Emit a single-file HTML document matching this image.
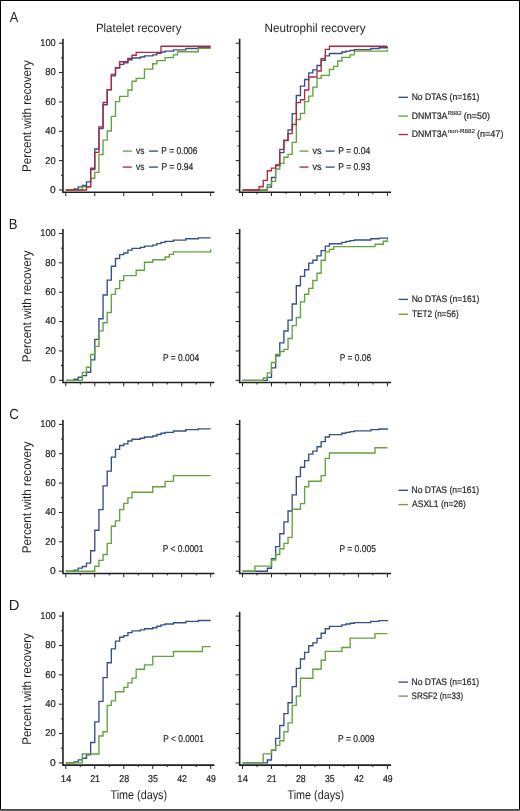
<!DOCTYPE html>
<html><head><meta charset="utf-8"><title>Platelet and neutrophil recovery</title>
<style>html,body{margin:0;padding:0;background:#fff;overflow:hidden}
.frame{position:relative;width:520px;height:811px;overflow:hidden}
.frame svg{position:absolute;left:0;top:0;display:block;will-change:transform}
</style></head><body><div class="frame">
<svg width="520" height="811" viewBox="0 0 520 811">
<style>text{font-family:"Liberation Sans", sans-serif;fill:#231f20;text-rendering:geometricPrecision} .sm{stroke:#231f20;stroke-width:0.2px} .xs{stroke:#231f20;stroke-width:0.12px} .ax{fill:none;stroke:#231f20;stroke-width:1.6} .tk{fill:none;stroke:#231f20;stroke-width:1.0} .c path{fill:none;stroke-width:1.35} .lg{stroke-width:1.35;fill:none}</style>
<rect x="0" y="0" width="520" height="811" fill="#fff"/>
<path d="M62.95,38.80 V192.25 H214.40" class="ax"/>
<path d="M58.95,43.20H62.95M60.95,57.88H62.95M58.95,72.56H62.95M60.95,87.24H62.95M58.95,101.92H62.95M60.95,116.60H62.95M58.95,131.28H62.95M60.95,145.96H62.95M58.95,160.64H62.95M60.95,175.32H62.95M58.95,190.00H62.95M65.80,192.25V196.05M94.78,192.25V196.05M123.76,192.25V196.05M152.74,192.25V196.05M181.72,192.25V196.05M210.70,192.25V196.05" class="tk"/>
<path d="M239.65,38.80 V192.25 H391.10" class="ax"/>
<path d="M235.65,43.20H239.65M237.65,57.88H239.65M235.65,72.56H239.65M237.65,87.24H239.65M235.65,101.92H239.65M237.65,116.60H239.65M235.65,131.28H239.65M237.65,145.96H239.65M235.65,160.64H239.65M237.65,175.32H239.65M235.65,190.00H239.65M242.50,192.25V196.05M256.99,192.25V194.25M271.48,192.25V196.05M285.97,192.25V194.25M300.46,192.25V196.05M314.95,192.25V194.25M329.44,192.25V196.05M343.93,192.25V194.25M358.42,192.25V196.05M372.91,192.25V194.25M387.40,192.25V196.05" class="tk"/>
<text transform="translate(30.75,115.50) rotate(-90)" x="-56.45" y="0" font-size="12.6" textLength="111.70" lengthAdjust="spacingAndGlyphs">Percent with recovery</text>
<path d="M62.95,229.10 V382.55 H214.40" class="ax"/>
<path d="M58.95,233.50H62.95M60.95,248.18H62.95M58.95,262.86H62.95M60.95,277.54H62.95M58.95,292.22H62.95M60.95,306.90H62.95M58.95,321.58H62.95M60.95,336.26H62.95M58.95,350.94H62.95M60.95,365.62H62.95M58.95,380.30H62.95M65.80,382.55V386.35M80.29,382.55V384.55M94.78,382.55V386.35M109.27,382.55V384.55M123.76,382.55V386.35M138.25,382.55V384.55M152.74,382.55V386.35M167.23,382.55V384.55M181.72,382.55V386.35M196.21,382.55V384.55M210.70,382.55V386.35" class="tk"/>
<path d="M239.65,229.10 V382.55 H391.10" class="ax"/>
<path d="M235.65,233.50H239.65M237.65,248.18H239.65M235.65,262.86H239.65M237.65,277.54H239.65M235.65,292.22H239.65M237.65,306.90H239.65M235.65,321.58H239.65M237.65,336.26H239.65M235.65,350.94H239.65M237.65,365.62H239.65M235.65,380.30H239.65M242.50,382.55V386.35M256.99,382.55V384.55M271.48,382.55V386.35M285.97,382.55V384.55M300.46,382.55V386.35M314.95,382.55V384.55M329.44,382.55V386.35M343.93,382.55V384.55M358.42,382.55V386.35M372.91,382.55V384.55M387.40,382.55V386.35" class="tk"/>
<text transform="translate(30.75,305.80) rotate(-90)" x="-56.45" y="0" font-size="12.6" textLength="111.70" lengthAdjust="spacingAndGlyphs">Percent with recovery</text>
<path d="M62.95,420.00 V573.45 H214.40" class="ax"/>
<path d="M58.95,424.40H62.95M60.95,439.08H62.95M58.95,453.76H62.95M60.95,468.44H62.95M58.95,483.12H62.95M60.95,497.80H62.95M58.95,512.48H62.95M60.95,527.16H62.95M58.95,541.84H62.95M60.95,556.52H62.95M58.95,571.20H62.95M65.80,573.45V577.25M80.29,573.45V575.45M94.78,573.45V577.25M109.27,573.45V575.45M123.76,573.45V577.25M138.25,573.45V575.45M152.74,573.45V577.25M167.23,573.45V575.45M181.72,573.45V577.25M196.21,573.45V575.45M210.70,573.45V577.25" class="tk"/>
<path d="M239.65,420.00 V573.45 H391.10" class="ax"/>
<path d="M235.65,424.40H239.65M237.65,439.08H239.65M235.65,453.76H239.65M237.65,468.44H239.65M235.65,483.12H239.65M237.65,497.80H239.65M235.65,512.48H239.65M237.65,527.16H239.65M235.65,541.84H239.65M237.65,556.52H239.65M235.65,571.20H239.65M242.50,573.45V577.25M256.99,573.45V575.45M271.48,573.45V577.25M285.97,573.45V575.45M300.46,573.45V577.25M314.95,573.45V575.45M329.44,573.45V577.25M343.93,573.45V575.45M358.42,573.45V577.25M372.91,573.45V575.45M387.40,573.45V577.25" class="tk"/>
<text transform="translate(30.75,496.70) rotate(-90)" x="-56.45" y="0" font-size="12.6" textLength="111.70" lengthAdjust="spacingAndGlyphs">Percent with recovery</text>
<path d="M62.95,611.70 V765.15 H214.40" class="ax"/>
<path d="M58.95,616.10H62.95M60.95,630.78H62.95M58.95,645.46H62.95M60.95,660.14H62.95M58.95,674.82H62.95M60.95,689.50H62.95M58.95,704.18H62.95M60.95,718.86H62.95M58.95,733.54H62.95M60.95,748.22H62.95M58.95,762.90H62.95M65.80,765.15V768.95M80.29,765.15V767.15M94.78,765.15V768.95M109.27,765.15V767.15M123.76,765.15V768.95M138.25,765.15V767.15M152.74,765.15V768.95M167.23,765.15V767.15M181.72,765.15V768.95M196.21,765.15V767.15M210.70,765.15V768.95" class="tk"/>
<path d="M239.65,611.70 V765.15 H391.10" class="ax"/>
<path d="M235.65,616.10H239.65M237.65,630.78H239.65M235.65,645.46H239.65M237.65,660.14H239.65M235.65,674.82H239.65M237.65,689.50H239.65M235.65,704.18H239.65M237.65,718.86H239.65M235.65,733.54H239.65M237.65,748.22H239.65M235.65,762.90H239.65M242.50,765.15V768.95M256.99,765.15V767.15M271.48,765.15V768.95M285.97,765.15V767.15M300.46,765.15V768.95M314.95,765.15V767.15M329.44,765.15V768.95M343.93,765.15V767.15M358.42,765.15V768.95M372.91,765.15V767.15M387.40,765.15V768.95" class="tk"/>
<text transform="translate(30.75,688.40) rotate(-90)" x="-56.45" y="0" font-size="12.6" textLength="111.70" lengthAdjust="spacingAndGlyphs">Percent with recovery</text>
<g class="c">
<path d="M65.80,190.00 H74.08 V188.97 H78.22 V186.92 H82.36 V185.30 H86.50 V181.93 H90.64 V169.59 H94.78 V149.04 H98.92 V128.49 H103.06 V104.71 H107.20 V89.88 H111.34 V75.94 H115.48 V68.16 H119.62 V64.34 H123.76 V62.72 H127.90 V59.79 H132.04 V58.03 H140.32 V57.00 H144.46 V55.82 H152.74 V54.80 H156.88 V53.33 H161.02 V52.01 H165.16 V51.13 H173.44 V49.81 H185.86 V48.48 H198.28 V47.60 H210.70" stroke="#34508a"/>
<path d="M65.80,190.00 H82.36 V186.77 H90.64 V178.26 H94.78 V172.38 H98.92 V154.47 H103.06 V140.09 H107.20 V130.99 H111.34 V116.31 H115.48 V101.63 H119.62 V96.34 H127.90 V90.03 H132.04 V81.22 H136.18 V78.43 H144.46 V69.18 H152.74 V63.75 H156.88 V60.67 H165.16 V57.59 H173.44 V54.94 H177.58 V51.71 H198.28 V48.34 H210.70" stroke="#62a33c"/>
<path d="M65.80,190.00 H86.50 V186.77 H90.64 V168.27 H94.78 V152.42 H98.92 V127.02 H103.06 V102.51 H107.20 V89.59 H111.34 V74.47 H115.48 V67.57 H119.62 V61.70 H127.90 V58.32 H132.04 V55.24 H136.18 V52.30 H161.02 V46.28 H210.70" stroke="#b02a3e"/>
<path d="M242.50,190.00 H267.34 V187.06 H271.48 V177.52 H275.62 V165.48 H279.76 V152.57 H283.90 V140.68 H288.04 V129.81 H292.18 V113.66 H296.32 V95.46 H300.46 V86.07 H304.60 V79.46 H308.74 V72.85 H312.88 V69.92 H317.02 V65.51 H321.16 V60.38 H325.30 V55.82 H329.44 V53.48 H341.86 V52.01 H346.00 V51.13 H350.14 V50.39 H354.28 V49.66 H370.84 V48.48 H379.12 V47.75 H387.40 V47.02 H387.40" stroke="#34508a"/>
<path d="M242.50,190.00 H267.34 V184.72 H271.48 V181.34 H275.62 V169.01 H279.76 V163.43 H283.90 V157.26 H288.04 V154.33 H292.18 V142.44 H296.32 V119.54 H300.46 V113.37 H304.60 V101.63 H308.74 V96.05 H312.88 V87.09 H317.02 V78.43 H321.16 V75.35 H329.44 V69.33 H333.58 V66.39 H337.72 V60.96 H341.86 V57.44 H350.14 V54.80 H354.28 V51.13 H387.40 V49.66 H387.40" stroke="#62a33c"/>
<path d="M242.50,190.00 H259.06 V186.77 H263.20 V180.31 H267.34 V170.77 H271.48 V168.13 H275.62 V165.04 H279.76 V149.34 H283.90 V140.09 H288.04 V133.63 H292.18 V124.53 H296.32 V102.65 H300.46 V99.72 H304.60 V90.03 H308.74 V76.96 H317.02 V70.95 H321.16 V58.76 H325.30 V49.37 H329.44 V46.28 H387.40" stroke="#b02a3e"/>
<path d="M65.80,380.30 H74.08 V379.27 H78.22 V377.22 H82.36 V375.60 H86.50 V372.23 H90.64 V359.89 H94.78 V339.34 H98.92 V318.79 H103.06 V295.01 H107.20 V280.18 H111.34 V266.24 H115.48 V258.46 H119.62 V254.64 H123.76 V253.02 H127.90 V250.09 H132.04 V248.33 H140.32 V247.30 H144.46 V246.12 H152.74 V245.10 H156.88 V243.63 H161.02 V242.31 H165.16 V241.43 H173.44 V240.11 H185.86 V238.78 H198.28 V237.90 H210.70" stroke="#34508a"/>
<path d="M65.80,380.30 H82.36 V372.37 H86.50 V367.23 H90.64 V354.46 H94.78 V346.39 H98.92 V330.83 H103.06 V322.75 H107.20 V312.48 H111.34 V294.42 H115.48 V288.55 H119.62 V280.62 H123.76 V275.63 H136.18 V270.20 H144.46 V262.27 H152.74 V259.78 H165.16 V256.99 H169.30 V254.35 H173.44 V251.85 H210.70 V249.35 H210.70" stroke="#62a33c"/>
<path d="M242.50,380.30 H267.34 V377.36 H271.48 V367.82 H275.62 V355.78 H279.76 V342.87 H283.90 V330.98 H288.04 V320.11 H292.18 V303.96 H296.32 V285.76 H300.46 V276.37 H304.60 V269.76 H308.74 V263.15 H312.88 V260.22 H317.02 V255.81 H321.16 V250.68 H325.30 V246.12 H329.44 V243.78 H341.86 V242.31 H346.00 V241.43 H350.14 V240.69 H354.28 V239.96 H370.84 V238.78 H379.12 V238.05 H387.40 V237.32 H387.40" stroke="#34508a"/>
<path d="M242.50,380.30 H263.20 V377.95 H267.34 V372.81 H271.48 V362.54 H275.62 V354.46 H279.76 V351.53 H283.90 V349.33 H288.04 V338.46 H292.18 V325.69 H296.32 V317.47 H300.46 V301.91 H304.60 V294.28 H308.74 V288.40 H312.88 V280.48 H317.02 V273.28 H321.16 V260.22 H325.30 V251.85 H329.44 V249.35 H333.58 V246.57 H374.98 V244.22 H383.26 V241.28 H387.40 V239.23 H387.40" stroke="#62a33c"/>
<path d="M65.80,571.20 H74.08 V570.17 H78.22 V568.12 H82.36 V566.50 H86.50 V563.13 H90.64 V550.79 H94.78 V530.24 H98.92 V509.69 H103.06 V485.91 H107.20 V471.08 H111.34 V457.14 H115.48 V449.36 H119.62 V445.54 H123.76 V443.92 H127.90 V440.99 H132.04 V439.23 H140.32 V438.20 H144.46 V437.02 H152.74 V436.00 H156.88 V434.53 H161.02 V433.21 H165.16 V432.33 H173.44 V431.01 H185.86 V429.68 H198.28 V428.80 H210.70" stroke="#34508a"/>
<path d="M65.80,571.20 H94.78 V566.21 H98.92 V560.34 H103.06 V554.46 H107.20 V543.31 H111.34 V526.28 H115.48 V520.85 H119.62 V509.54 H123.76 V503.38 H127.90 V497.80 H132.04 V492.22 H152.74 V486.79 H165.16 V481.36 H173.44 V475.63 H210.70" stroke="#62a33c"/>
<path d="M242.50,571.20 H267.34 V568.26 H271.48 V558.72 H275.62 V546.68 H279.76 V533.77 H283.90 V521.88 H288.04 V511.01 H292.18 V494.86 H296.32 V476.66 H300.46 V467.27 H304.60 V460.66 H308.74 V454.05 H312.88 V451.12 H317.02 V446.71 H321.16 V441.58 H325.30 V437.02 H329.44 V434.68 H341.86 V433.21 H346.00 V432.33 H350.14 V431.59 H354.28 V430.86 H370.84 V429.68 H379.12 V428.95 H387.40 V428.22 H387.40" stroke="#34508a"/>
<path d="M242.50,571.20 H254.92 V566.06 H271.48 V560.04 H275.62 V554.46 H279.76 V548.74 H283.90 V543.31 H288.04 V537.44 H292.18 V509.25 H300.46 V503.67 H304.60 V486.79 H308.74 V481.21 H321.16 V475.63 H325.30 V458.31 H329.44 V453.03 H374.98 V447.74 H387.40" stroke="#62a33c"/>
<path d="M65.80,762.90 H74.08 V761.87 H78.22 V759.82 H82.36 V758.20 H86.50 V754.83 H90.64 V742.49 H94.78 V721.94 H98.92 V701.39 H103.06 V677.61 H107.20 V662.78 H111.34 V648.84 H115.48 V641.06 H119.62 V637.24 H123.76 V635.62 H127.90 V632.69 H132.04 V630.93 H140.32 V629.90 H144.46 V628.72 H152.74 V627.70 H156.88 V626.23 H161.02 V624.91 H165.16 V624.03 H173.44 V622.71 H185.86 V621.38 H198.28 V620.50 H210.70" stroke="#34508a"/>
<path d="M65.80,762.90 H82.36 V753.95 H98.92 V736.04 H103.06 V731.78 H107.20 V705.35 H111.34 V700.80 H115.48 V691.70 H123.76 V687.44 H127.90 V682.89 H132.04 V678.05 H136.18 V669.24 H144.46 V664.84 H152.74 V656.32 H173.44 V651.48 H202.42 V646.63 H210.70" stroke="#62a33c"/>
<path d="M242.50,762.90 H267.34 V759.96 H271.48 V750.42 H275.62 V738.38 H279.76 V725.47 H283.90 V713.58 H288.04 V702.71 H292.18 V686.56 H296.32 V668.36 H300.46 V658.97 H304.60 V652.36 H308.74 V645.75 H312.88 V642.82 H317.02 V638.41 H321.16 V633.28 H325.30 V628.72 H329.44 V626.38 H341.86 V624.91 H346.00 V624.03 H350.14 V623.29 H354.28 V622.56 H370.84 V621.38 H379.12 V620.65 H387.40 V619.92 H387.40" stroke="#34508a"/>
<path d="M242.50,762.90 H263.20 V753.80 H271.48 V749.98 H275.62 V745.43 H279.76 V740.73 H283.90 V731.78 H288.04 V722.82 H292.18 V705.35 H296.32 V696.11 H300.46 V678.20 H312.88 V669.24 H321.16 V660.29 H325.30 V651.33 H341.86 V647.52 H350.14 V638.12 H374.98 V633.57 H387.40" stroke="#62a33c"/>
</g>
<path d="M122.80,151.10H131.80" stroke="#62a33c" class="lg"/>
<path d="M149.00,151.10H157.90" stroke="#34508a" class="lg"/>
<path d="M122.80,167.10H131.80" stroke="#b02a3e" class="lg"/>
<path d="M149.00,167.10H157.90" stroke="#34508a" class="lg"/>
<path d="M299.50,151.10H308.50" stroke="#62a33c" class="lg"/>
<path d="M325.70,151.10H334.60" stroke="#34508a" class="lg"/>
<path d="M299.50,167.10H308.50" stroke="#b02a3e" class="lg"/>
<path d="M325.70,167.10H334.60" stroke="#34508a" class="lg"/>
<path d="M398.50,97.30H408.00" stroke="#34508a" class="lg"/>
<path d="M398.50,116.05H408.00" stroke="#62a33c" class="lg"/>
<path d="M398.50,134.55H408.00" stroke="#b02a3e" class="lg"/>
<path d="M398.50,299.40H408.00" stroke="#34508a" class="lg"/>
<path d="M398.50,314.20H408.00" stroke="#62a33c" class="lg"/>
<path d="M398.50,490.30H408.00" stroke="#34508a" class="lg"/>
<path d="M398.50,504.60H408.00" stroke="#62a33c" class="lg"/>
<path d="M398.50,682.10H408.00" stroke="#34508a" class="lg"/>
<path d="M398.50,696.10H408.00" stroke="#62a33c" class="lg"/>
<text x="9.64" y="22.00" font-size="14.60" textLength="8.49" lengthAdjust="spacingAndGlyphs">A</text>
<text x="8.87" y="229.00" font-size="14.60" textLength="8.73" lengthAdjust="spacingAndGlyphs">B</text>
<text x="9.36" y="419.00" font-size="14.60" textLength="9.58" lengthAdjust="spacingAndGlyphs">C</text>
<text x="8.72" y="610.00" font-size="14.60" textLength="10.64" lengthAdjust="spacingAndGlyphs">D</text>
<text x="95.92" y="32.00" font-size="12.00" textLength="85.48" lengthAdjust="spacingAndGlyphs">Platelet recovery</text>
<text x="264.50" y="32.00" font-size="12.00" textLength="101.08" lengthAdjust="spacingAndGlyphs">Neutrophil recovery</text>
<text x="40.34" y="46.00" font-size="9.90" textLength="15.44" lengthAdjust="spacingAndGlyphs" class="sm">100</text>
<text x="45.31" y="75.00" font-size="9.90" textLength="10.44" lengthAdjust="spacingAndGlyphs" class="sm">80</text>
<text x="45.24" y="105.00" font-size="9.90" textLength="10.47" lengthAdjust="spacingAndGlyphs" class="sm">60</text>
<text x="45.37" y="134.00" font-size="9.90" textLength="10.46" lengthAdjust="spacingAndGlyphs" class="sm">40</text>
<text x="45.31" y="164.00" font-size="9.90" textLength="10.43" lengthAdjust="spacingAndGlyphs" class="sm">20</text>
<text x="50.05" y="193.00" font-size="9.90" textLength="5.72" lengthAdjust="spacingAndGlyphs" class="sm">0</text>
<text x="40.34" y="236.00" font-size="9.90" textLength="15.44" lengthAdjust="spacingAndGlyphs" class="sm">100</text>
<text x="45.31" y="266.00" font-size="9.90" textLength="10.44" lengthAdjust="spacingAndGlyphs" class="sm">80</text>
<text x="45.24" y="295.00" font-size="9.90" textLength="10.47" lengthAdjust="spacingAndGlyphs" class="sm">60</text>
<text x="45.37" y="324.00" font-size="9.90" textLength="10.46" lengthAdjust="spacingAndGlyphs" class="sm">40</text>
<text x="45.31" y="354.00" font-size="9.90" textLength="10.43" lengthAdjust="spacingAndGlyphs" class="sm">20</text>
<text x="50.05" y="383.00" font-size="9.90" textLength="5.72" lengthAdjust="spacingAndGlyphs" class="sm">0</text>
<text x="40.34" y="427.00" font-size="9.90" textLength="15.44" lengthAdjust="spacingAndGlyphs" class="sm">100</text>
<text x="45.31" y="457.00" font-size="9.90" textLength="10.44" lengthAdjust="spacingAndGlyphs" class="sm">80</text>
<text x="45.24" y="486.00" font-size="9.90" textLength="10.47" lengthAdjust="spacingAndGlyphs" class="sm">60</text>
<text x="45.37" y="515.00" font-size="9.90" textLength="10.46" lengthAdjust="spacingAndGlyphs" class="sm">40</text>
<text x="45.31" y="545.00" font-size="9.90" textLength="10.43" lengthAdjust="spacingAndGlyphs" class="sm">20</text>
<text x="50.05" y="574.00" font-size="9.90" textLength="5.72" lengthAdjust="spacingAndGlyphs" class="sm">0</text>
<text x="40.34" y="619.00" font-size="9.90" textLength="15.44" lengthAdjust="spacingAndGlyphs" class="sm">100</text>
<text x="45.31" y="648.00" font-size="9.90" textLength="10.44" lengthAdjust="spacingAndGlyphs" class="sm">80</text>
<text x="45.24" y="678.00" font-size="9.90" textLength="10.47" lengthAdjust="spacingAndGlyphs" class="sm">60</text>
<text x="45.37" y="707.00" font-size="9.90" textLength="10.46" lengthAdjust="spacingAndGlyphs" class="sm">40</text>
<text x="45.31" y="736.00" font-size="9.90" textLength="10.43" lengthAdjust="spacingAndGlyphs" class="sm">20</text>
<text x="50.05" y="766.00" font-size="9.90" textLength="5.72" lengthAdjust="spacingAndGlyphs" class="sm">0</text>
<text x="60.64" y="782.00" font-size="9.90" textLength="10.73" lengthAdjust="spacingAndGlyphs" class="sm">14</text>
<text x="90.13" y="782.00" font-size="9.90" textLength="9.97" lengthAdjust="spacingAndGlyphs" class="sm">21</text>
<text x="119.18" y="782.00" font-size="9.90" textLength="9.92" lengthAdjust="spacingAndGlyphs" class="sm">28</text>
<text x="148.02" y="782.00" font-size="9.90" textLength="9.91" lengthAdjust="spacingAndGlyphs" class="sm">35</text>
<text x="177.20" y="782.00" font-size="9.90" textLength="9.82" lengthAdjust="spacingAndGlyphs" class="sm">42</text>
<text x="206.16" y="782.00" font-size="9.90" textLength="9.73" lengthAdjust="spacingAndGlyphs" class="sm">49</text>
<text x="237.32" y="782.00" font-size="9.90" textLength="10.69" lengthAdjust="spacingAndGlyphs" class="sm">14</text>
<text x="266.94" y="782.00" font-size="9.90" textLength="9.84" lengthAdjust="spacingAndGlyphs" class="sm">21</text>
<text x="295.90" y="782.00" font-size="9.90" textLength="9.85" lengthAdjust="spacingAndGlyphs" class="sm">28</text>
<text x="324.92" y="782.00" font-size="9.90" textLength="9.70" lengthAdjust="spacingAndGlyphs" class="sm">35</text>
<text x="354.20" y="782.00" font-size="9.90" textLength="9.43" lengthAdjust="spacingAndGlyphs" class="sm">42</text>
<text x="382.96" y="782.00" font-size="9.90" textLength="9.61" lengthAdjust="spacingAndGlyphs" class="sm">49</text>
<text x="110.44" y="799.00" font-size="12.50" textLength="56.63" lengthAdjust="spacingAndGlyphs">Time (days)</text>
<text x="287.44" y="799.00" font-size="12.50" textLength="56.63" lengthAdjust="spacingAndGlyphs">Time (days)</text>
<text x="136.11" y="154.00" font-size="9.90" textLength="8.43" lengthAdjust="spacingAndGlyphs" class="sm">vs</text>
<text x="136.11" y="170.00" font-size="9.90" textLength="8.43" lengthAdjust="spacingAndGlyphs" class="sm">vs</text>
<text x="312.48" y="154.00" font-size="9.90" textLength="8.99" lengthAdjust="spacingAndGlyphs" class="sm">vs</text>
<text x="312.48" y="170.00" font-size="9.90" textLength="8.99" lengthAdjust="spacingAndGlyphs" class="sm">vs</text>
<text x="161.34" y="154.00" font-size="9.90" textLength="36.10" lengthAdjust="spacingAndGlyphs" class="sm">P = 0.006</text>
<text x="161.43" y="170.00" font-size="9.90" textLength="31.79" lengthAdjust="spacingAndGlyphs" class="sm">P = 0.94</text>
<text x="338.17" y="154.00" font-size="9.90" textLength="32.09" lengthAdjust="spacingAndGlyphs" class="sm">P = 0.04</text>
<text x="338.21" y="170.00" font-size="9.90" textLength="32.04" lengthAdjust="spacingAndGlyphs" class="sm">P = 0.93</text>
<text x="162.99" y="361.00" font-size="9.90" textLength="36.07" lengthAdjust="spacingAndGlyphs" class="sm">P = 0.004</text>
<text x="339.75" y="361.00" font-size="9.90" textLength="31.42" lengthAdjust="spacingAndGlyphs" class="sm">P = 0.06</text>
<text x="162.64" y="552.00" font-size="9.90" textLength="40.85" lengthAdjust="spacingAndGlyphs" class="sm">P &lt; 0.0001</text>
<text x="339.41" y="552.00" font-size="9.90" textLength="36.51" lengthAdjust="spacingAndGlyphs" class="sm">P = 0.005</text>
<text x="163.29" y="742.00" font-size="9.90" textLength="40.53" lengthAdjust="spacingAndGlyphs" class="sm">P &lt; 0.0001</text>
<text x="338.02" y="742.00" font-size="9.90" textLength="36.50" lengthAdjust="spacingAndGlyphs" class="sm">P = 0.009</text>
<text x="411.63" y="100.00" font-size="9.40" textLength="67.68" lengthAdjust="spacingAndGlyphs" class="sm">No DTAS (n=161)</text>
<text x="411.66" y="119.00" font-size="9.40" textLength="35.74" lengthAdjust="spacingAndGlyphs" class="sm">DNMT3A</text>
<text x="447.87" y="115.00" font-size="5.80" textLength="13.90" lengthAdjust="spacingAndGlyphs" class="xs">R882</text>
<text x="463.81" y="119.00" font-size="9.40" textLength="26.30" lengthAdjust="spacingAndGlyphs" class="sm">(n=50)</text>
<text x="411.66" y="137.00" font-size="9.40" textLength="35.74" lengthAdjust="spacingAndGlyphs" class="sm">DNMT3A</text>
<text x="447.65" y="133.00" font-size="5.80" textLength="27.29" lengthAdjust="spacingAndGlyphs" class="xs">non-R882</text>
<text x="476.95" y="137.00" font-size="9.40" textLength="26.50" lengthAdjust="spacingAndGlyphs" class="sm">(n=47)</text>
<text x="411.64" y="302.00" font-size="9.40" textLength="67.67" lengthAdjust="spacingAndGlyphs" class="sm">No DTAS (n=161)</text>
<text x="411.93" y="317.00" font-size="9.40" textLength="46.72" lengthAdjust="spacingAndGlyphs" class="sm">TET2 (n=56)</text>
<text x="411.52" y="493.00" font-size="9.40" textLength="67.68" lengthAdjust="spacingAndGlyphs" class="sm">No DTAS (n=161)</text>
<text x="412.03" y="507.00" font-size="9.40" textLength="53.77" lengthAdjust="spacingAndGlyphs" class="sm">ASXL1 (n=26)</text>
<text x="411.52" y="685.00" font-size="9.40" textLength="67.68" lengthAdjust="spacingAndGlyphs" class="sm">No DTAS (n=161)</text>
<text x="411.58" y="699.00" font-size="9.40" textLength="51.54" lengthAdjust="spacingAndGlyphs" class="sm">SRSF2 (n=33)</text>
<path d="M0,0H520V1H0Z M0,0H1V809H0Z M519,0H520V809H519Z" fill="#000"/>
<rect x="0" y="809" width="520" height="1" fill="#4b4b4b"/><rect x="0" y="810" width="520" height="1" fill="#616161"/>
</svg>
</div></body></html>
